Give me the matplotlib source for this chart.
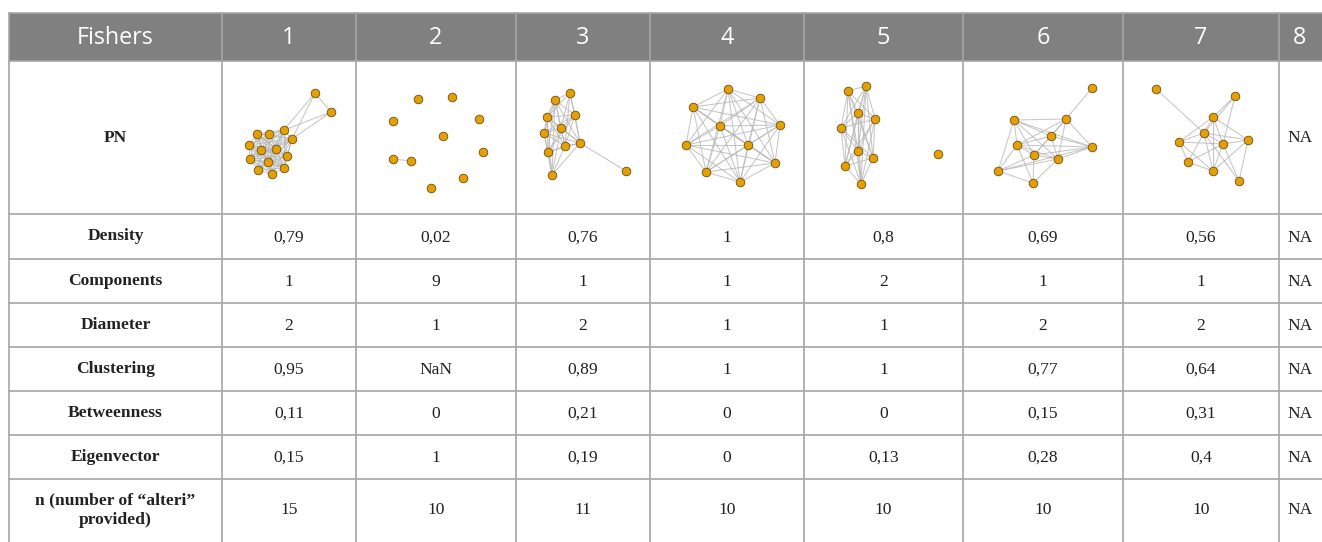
import itertools
import matplotlib
matplotlib.use("Agg")
import matplotlib.pyplot as plt
from matplotlib.patches import Rectangle

# ---------------- data ----------------
header = ["Fishers", "1", "2", "3", "4", "5", "6", "7", "8"]
row_labels = ["PN", "Density", "Components", "Diameter", "Clustering",
              "Betweenness", "Eigenvector", "n (number of \u201calteri\u201d\nprovided)"]
density = ["0,79", "0,02", "0,76", "1", "0,8", "0,69", "0,56", "NA"]
components = ["1", "9", "1", "1", "2", "1", "1", "NA"]
diameter = ["2", "1", "2", "1", "1", "2", "2", "NA"]
clustering = ["0,95", "NaN", "0,89", "1", "1", "0,77", "0,64", "NA"]
betweenness = ["0,11", "0", "0,21", "0", "0", "0,15", "0,31", "NA"]
eigenvector = ["0,15", "1", "0,19", "0", "0,13", "0,28", "0,4", "NA"]
n_alteri = ["15", "10", "11", "10", "10", "10", "10", "NA"]

# personal-network node layouts (pixel space)
net1_x = [315, 331, 284, 292, 257, 269, 249, 261, 276, 287, 250, 268, 284, 258, 272]
net1_y = [93, 112, 130, 139, 134, 134, 145, 150, 149, 156, 159, 162, 168, 170, 174]
net1_edges = ([(0, 1), (0, 2), (0, 3), (1, 2), (1, 3)]
              + list(itertools.combinations(range(2, 15), 2)))

net2_x = [418, 393, 393, 411, 431, 452, 479, 443, 483, 463]
net2_y = [99, 121, 159, 161, 188, 97, 119, 136, 152, 178]
net2_edges = [(2, 3)]

net3_x = [570, 555, 547, 575, 544, 561, 565, 580, 548, 552, 626]
net3_y = [93, 100, 117, 115, 133, 128, 146, 143, 152, 175, 171]
net3_missing = {(0, 9), (3, 9), (0, 4), (0, 8)}
net3_edges = [(7, 10)] + [e for e in itertools.combinations(range(10), 2)
                          if e not in net3_missing]

net4_x = [728, 760, 693, 780, 720, 686, 748, 775, 706, 740]
net4_y = [89, 98, 107, 125, 126, 145, 145, 163, 172, 182]
net4_edges = list(itertools.combinations(range(10), 2))

net5_x = [848, 866, 858, 875, 841, 858, 873, 845, 861, 938]
net5_y = [91, 86, 113, 119, 128, 151, 158, 166, 184, 154]
net5_edges = list(itertools.combinations(range(9), 2))

net6_x = [1092, 1014, 1066, 1051, 1017, 1092, 1034, 1058, 998, 1033]
net6_y = [88, 120, 119, 136, 145, 147, 155, 159, 171, 183]
net6_missing = {(2, 8), (3, 8), (2, 9), (3, 9), (5, 9), (1, 9)}
net6_edges = [(0, 2)] + [e for e in itertools.combinations(range(1, 10), 2)
                         if e not in net6_missing]

net7_x = [1156, 1235, 1213, 1204, 1179, 1223, 1248, 1188, 1213, 1239]
net7_y = [89, 96, 117, 133, 142, 144, 140, 162, 171, 181]
net7_edges = [(0, 3), (1, 2), (1, 3), (1, 5), (2, 3), (2, 4), (2, 5), (2, 6), (2, 8),
              (3, 4), (3, 5), (3, 6), (3, 7), (3, 8), (3, 9), (4, 5), (4, 7), (4, 8),
              (5, 6), (5, 8), (5, 9), (5, 7), (6, 8), (7, 8), (6, 9)]

networks = [(net1_x, net1_y, net1_edges), (net2_x, net2_y, net2_edges),
            (net3_x, net3_y, net3_edges), (net4_x, net4_y, net4_edges),
            (net5_x, net5_y, net5_edges), (net6_x, net6_y, net6_edges),
            (net7_x, net7_y, net7_edges)]

# ---------------- layout ----------------
W, H = 1322, 542
col_edges = [9, 222, 356, 516, 650, 804, 963, 1123, 1279, 1345]
row_edges = [13, 61, 214, 259, 303, 347, 391, 435, 479, 560]
last_cx = 1300
last_cy = 510

fig = plt.figure(figsize=(W / 100, H / 100), dpi=100)
ax = fig.add_axes([0, 0, 1, 1])
ax.set_xlim(0, W)
ax.set_ylim(H, 0)
ax.axis("off")

grid_c = "#a6a6a6"
head_bg = "#808080"
txt_c = "#222222"
body_fs = 12.6

# header
ax.add_patch(Rectangle((col_edges[0], row_edges[0]), col_edges[-1] - col_edges[0],
                       row_edges[1] - row_edges[0], facecolor=head_bg,
                       edgecolor="none", zorder=1))
for i, lab in enumerate(header):
    cx = (col_edges[i] + col_edges[i + 1]) / 2
    if i == len(header) - 1:
        cx = last_cx
    ax.text(cx, (row_edges[0] + row_edges[1]) / 2 + 1, lab, color="white",
            fontsize=16.8, family="Open Sans", ha="center", va="center", zorder=3)

# grid lines
for y in row_edges[:-1]:
    ax.plot([col_edges[0], col_edges[-1]], [y, y], color=grid_c, lw=1.2, zorder=2)
for x in col_edges[:-1]:
    ax.plot([x, x], [row_edges[0], row_edges[-1]], color=grid_c, lw=1.2, zorder=2)

# row labels
for r, lab in enumerate(row_labels):
    cy = (row_edges[r + 1] + row_edges[r + 2]) / 2
    if r == len(row_labels) - 1:
        cy = last_cy
    ax.text((col_edges[0] + col_edges[1]) / 2, cy, lab, fontsize=body_fs, weight="bold",
            family="Liberation Serif", ha="center", va="center", color=txt_c,
            linespacing=1.3, zorder=3)

# value rows
value_rows = [density, components, diameter, clustering, betweenness, eigenvector, n_alteri]
for r, vals in enumerate(value_rows):
    cy = (row_edges[r + 2] + row_edges[r + 3]) / 2 + 1
    if r == len(value_rows) - 1:
        cy = last_cy
    for c, v in enumerate(vals):
        cx = (col_edges[c + 1] + col_edges[c + 2]) / 2
        if c == len(vals) - 1:
            cx = last_cx
        ax.text(cx, cy, v, fontsize=body_fs, family="Liberation Serif", ha="center",
                va="center", color=txt_c, zorder=3)

# NA for network 8
ax.text(last_cx, (row_edges[1] + row_edges[2]) / 2, "NA", fontsize=body_fs,
        family="Liberation Serif", ha="center", va="center", color=txt_c, zorder=3)

# networks
for xs, ys, edges in networks:
    for a, b in edges:
        ax.plot([xs[a], xs[b]], [ys[a], ys[b]], color="#b8b8b8", lw=0.75,
                alpha=0.8, zorder=4, solid_capstyle="round")
    ax.plot(xs, ys, "o", ms=6.2, mfc="#E69F00", mec="#6b5010", mew=0.6,
            linestyle="none", zorder=5)

fig.savefig("out.png", dpi=100)
